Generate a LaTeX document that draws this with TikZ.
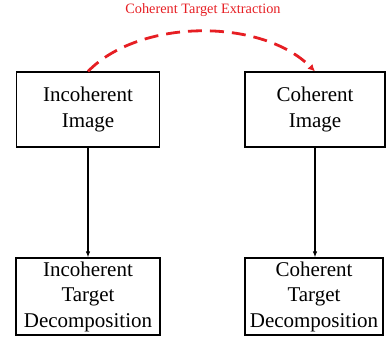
\documentclass[tikz,border=0pt]{standalone}
\usepackage{fontspec}
\setmainfont{Liberation Serif}
\usetikzlibrary{arrows.meta}
\definecolor{tred}{RGB}{230,30,35}
\begin{document}
\begin{tikzpicture}[x=1bp,y=1bp,
  box/.style={draw,line width=1.2bp,inner sep=0pt,align=center,
    font=\fontsize{21bp}{25.5bp}\selectfont},
  flow/.style={line width=1.3bp,-{Latex[length=6bp,width=4.5bp]}},
  extract/.style={tred,line width=2.8bp,dash pattern=on 14bp off 8bp,
    -{Latex[length=7bp,width=7bp]}}]
\useasboundingbox (0,0) rectangle (386,-340);
\node[box,minimum width=143bp,minimum height=75bp] (ti) at (88,-109.5) {Incoherent\\Image};
\node[box,minimum width=140bp,minimum height=75bp] (tc) at (315,-109.5) {Coherent\\Image};
\node[box,minimum width=144bp,minimum height=77bp] (bi) at (88,-296.5) {Incoherent\\Target\\Decomposition};
\node[box,minimum width=138bp,minimum height=77bp] (bc) at (314,-296.5) {Coherent\\Target\\Decomposition};
\draw[flow] (ti.south) -- (ti.south |- bi.north);
\draw[flow] (tc.south) -- (tc.south |- bc.north);
\draw[extract] (ti.north) .. controls (140,-18) and (262,-18) .. (tc.north);
\node[text=tred,font=\fontsize{14.3bp}{16bp}\selectfont] (lbl) at (203,-10) {Coherent Target Extraction};
\end{tikzpicture}
\end{document}
